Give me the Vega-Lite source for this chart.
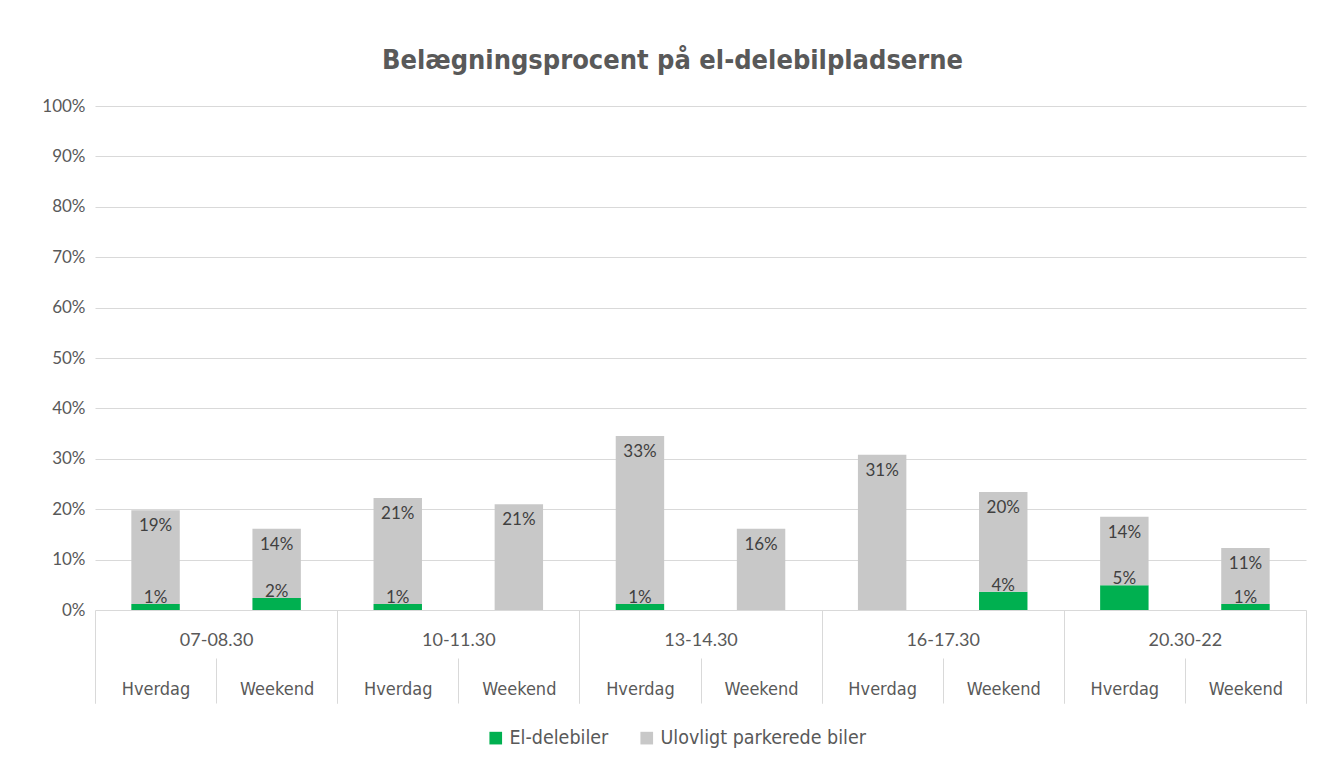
{
  "$schema": "https://vega.github.io/schema/vega-lite/v6.json",
  "autosize": "none",
  "width": 1211,
  "height": 504,
  "padding": {"left": 95, "top": 106, "right": 13, "bottom": 152},
  "background": "white",
  "title": {
    "text": "Belægningsprocent på el-delebilpladserne",
    "font": "DejaVu Sans Condensed",
    "fontSize": 27,
    "fontWeight": "bold",
    "color": "#595959",
    "anchor": "middle",
    "dx": -28,
    "offset": 22
  },
  "data": {
    "values": [
      {"key": "07-08.30|Hverdag", "group": "07-08.30", "serie": "El-delebiler", "ord": 1, "value": 0.012},
      {"key": "07-08.30|Hverdag", "group": "07-08.30", "serie": "Ulovligt parkerede biler", "ord": 2, "value": 0.186},
      {"key": "07-08.30|Weekend", "group": "07-08.30", "serie": "El-delebiler", "ord": 1, "value": 0.024},
      {"key": "07-08.30|Weekend", "group": "07-08.30", "serie": "Ulovligt parkerede biler", "ord": 2, "value": 0.137},
      {"key": "10-11.30|Hverdag", "group": "10-11.30", "serie": "El-delebiler", "ord": 1, "value": 0.012},
      {"key": "10-11.30|Hverdag", "group": "10-11.30", "serie": "Ulovligt parkerede biler", "ord": 2, "value": 0.210},
      {"key": "10-11.30|Weekend", "group": "10-11.30", "serie": "El-delebiler", "ord": 1, "value": 0},
      {"key": "10-11.30|Weekend", "group": "10-11.30", "serie": "Ulovligt parkerede biler", "ord": 2, "value": 0.210},
      {"key": "13-14.30|Hverdag", "group": "13-14.30", "serie": "El-delebiler", "ord": 1, "value": 0.012},
      {"key": "13-14.30|Hverdag", "group": "13-14.30", "serie": "Ulovligt parkerede biler", "ord": 2, "value": 0.333},
      {"key": "13-14.30|Weekend", "group": "13-14.30", "serie": "El-delebiler", "ord": 1, "value": 0},
      {"key": "13-14.30|Weekend", "group": "13-14.30", "serie": "Ulovligt parkerede biler", "ord": 2, "value": 0.161},
      {"key": "16-17.30|Hverdag", "group": "16-17.30", "serie": "El-delebiler", "ord": 1, "value": 0},
      {"key": "16-17.30|Hverdag", "group": "16-17.30", "serie": "Ulovligt parkerede biler", "ord": 2, "value": 0.308},
      {"key": "16-17.30|Weekend", "group": "16-17.30", "serie": "El-delebiler", "ord": 1, "value": 0.036},
      {"key": "16-17.30|Weekend", "group": "16-17.30", "serie": "Ulovligt parkerede biler", "ord": 2, "value": 0.198},
      {"key": "20.30-22|Hverdag", "group": "20.30-22", "serie": "El-delebiler", "ord": 1, "value": 0.049},
      {"key": "20.30-22|Hverdag", "group": "20.30-22", "serie": "Ulovligt parkerede biler", "ord": 2, "value": 0.136},
      {"key": "20.30-22|Weekend", "group": "20.30-22", "serie": "El-delebiler", "ord": 1, "value": 0.012},
      {"key": "20.30-22|Weekend", "group": "20.30-22", "serie": "Ulovligt parkerede biler", "ord": 2, "value": 0.111}
    ]
  },
  "layer": [
    {
      "transform": [
        {"stack": "value", "groupby": ["key"], "sort": [{"field": "ord", "order": "ascending"}], "as": ["v0", "v1"]}
      ],
      "layer": [
        {
          "mark": {"type": "bar", "width": {"band": 0.4}},
          "encoding": {
            "x": {
              "field": "key", "type": "nominal", "sort": null,
              "scale": {"paddingInner": 0, "paddingOuter": 0},
              "axis": {
                "orient": "bottom", "title": null, "offset": 48, "domain": false,
                "ticks": true, "tickBand": "extent", "tickSize": 45, "tickColor": "#d9d9d9", "tickWidth": 1,
                "labelAngle": 0, "labelExpr": "split(datum.label, '|')[1]",
                "labelFont": "DejaVu Sans Condensed", "labelFontSize": 18, "labelColor": "#595959",
                "labelPadding": -23, "labelBaseline": "top"
              }
            },
            "y": {
              "field": "v0", "type": "quantitative",
              "scale": {"domain": [0, 1]},
              "axis": {
                "title": null, "format": ".0%", "values": [0, 0.1, 0.2, 0.3, 0.4, 0.5, 0.6, 0.7, 0.8, 0.9, 1],
                "domain": false, "ticks": false, "grid": true, "gridColor": "#d9d9d9", "gridWidth": 1,
                "labelFont": "Lato", "labelFontSize": 17, "labelColor": "#595959", "labelPadding": 10
              }
            },
            "y2": {"field": "v1"},
            "color": {
              "field": "serie", "type": "nominal",
              "scale": {"domain": ["El-delebiler", "Ulovligt parkerede biler"], "range": ["#00B050", "#C8C8C8"]},
              "legend": {
                "title": null, "orient": "none", "direction": "horizontal", "legendX": 391, "legendY": 622,
                "symbolType": "square", "symbolSize": 160, "symbolStrokeWidth": 0,
                "labelFont": "DejaVu Sans Condensed", "labelFontSize": 19.5, "labelColor": "#595959",
                "labelLimit": 400, "columnPadding": 28
              }
            }
          }
        },
        {
          "transform": [{"filter": "datum.serie == 'El-delebiler' && datum.value > 0"}],
          "mark": {"type": "text", "baseline": "bottom", "dy": 3, "font": "Lato", "fontSize": 17, "color": "#404040"},
          "encoding": {
            "x": {"field": "key", "type": "nominal", "sort": null},
            "y": {"field": "v1", "type": "quantitative"},
            "text": {"field": "value", "type": "quantitative", "format": ".0%"}
          }
        },
        {
          "transform": [{"filter": "datum.serie == 'Ulovligt parkerede biler'"}],
          "mark": {"type": "text", "baseline": "top", "dy": 8, "font": "Lato", "fontSize": 17, "color": "#404040"},
          "encoding": {
            "x": {"field": "key", "type": "nominal", "sort": null},
            "y": {"field": "v1", "type": "quantitative"},
            "text": {"field": "value", "type": "quantitative", "format": ".0%"}
          }
        }
      ]
    },
    {
      "mark": {"type": "rule", "opacity": 0},
      "encoding": {
        "x": {
          "field": "group", "type": "nominal", "sort": null,
          "scale": {"paddingInner": 0, "paddingOuter": 0},
          "axis": {
            "orient": "bottom", "title": null, "domain": false,
            "ticks": true, "tickBand": "extent", "tickSize": 93, "tickColor": "#d9d9d9", "tickWidth": 1,
            "labelAngle": 0, "labelFont": "Lato", "labelFontSize": 18, "labelColor": "#595959",
            "labelPadding": -72, "labelBaseline": "top"
          }
        }
      }
    }
  ],
  "resolve": {"scale": {"x": "independent"}, "axis": {"x": "independent"}},
  "config": {"view": {"stroke": null}}
}
